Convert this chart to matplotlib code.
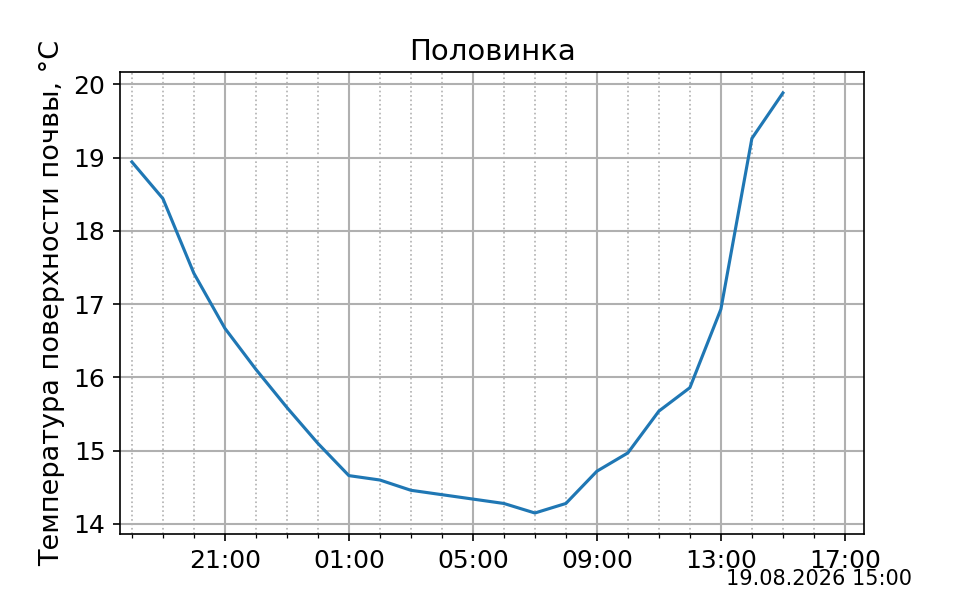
import matplotlib
matplotlib.use('Agg')
import matplotlib.pyplot as plt
import matplotlib.dates as mdates
import numpy as np
from datetime import datetime, timedelta

# hourly soil surface temperature
start = datetime(2026, 8, 18, 18, 0)
temps = [18.94, 18.44, 17.42, 16.67, 16.11, 15.59, 15.10, 14.66,
         14.60, 14.46, 14.40, 14.34, 14.28, 14.15, 14.28, 14.72,
         14.97, 15.54, 15.86, 16.93, 19.26, 19.88]
times = [start + timedelta(hours=i) for i in range(len(temps))]

fig, ax = plt.subplots(figsize=(6.4, 4), dpi=150)
ax.plot(times, temps)

ax.xaxis.set_major_locator(mdates.HourLocator(byhour=[1, 5, 9, 13, 17, 21]))
ax.xaxis.set_minor_locator(mdates.HourLocator())
ax.xaxis.set_major_formatter(mdates.DateFormatter('%H:%M'))
ax.set_xlim(datetime(2026, 8, 18, 17, 37), datetime(2026, 8, 19, 17, 37))

ax.grid(which='major', linestyle='-', linewidth=1, color='#b0b0b0')
ax.grid(which='minor', axis='x', linestyle=':', linewidth=0.8, color='#b0b0b0')
ax.tick_params(labelsize=12)

ax.set_title('Половинка', fontsize=14)
ax.set_ylabel('Температура поверхности почвы, °C', fontsize=13)
fig.text(0.95, 0.025, '19.08.2026 15:00', ha='right', va='baseline', fontsize=10)

plt.savefig('out.png')
